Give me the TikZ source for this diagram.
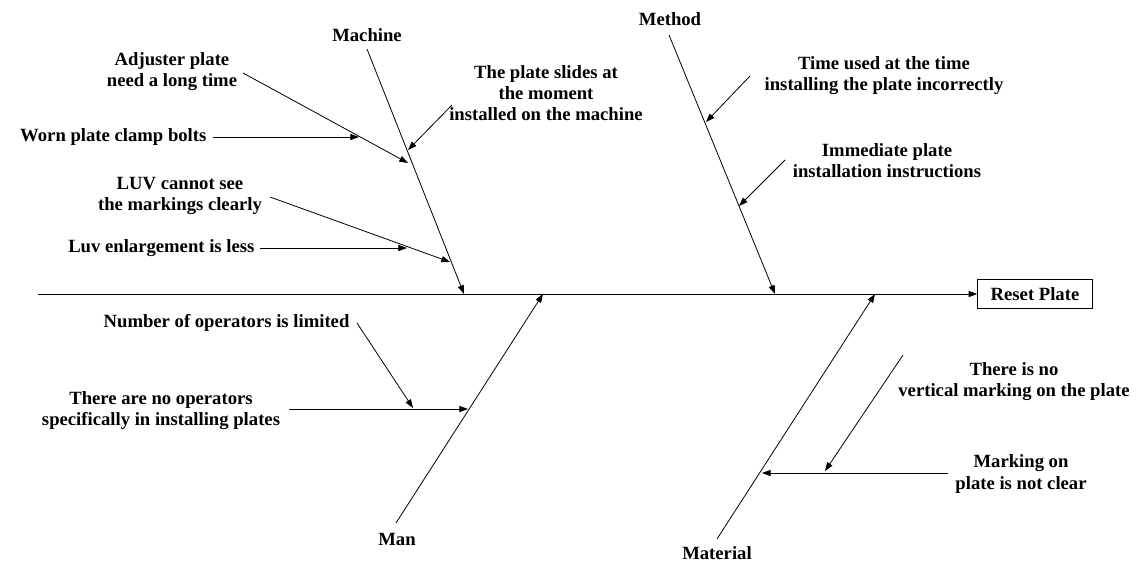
\documentclass[tikz,border=0pt]{standalone}
\usepackage{fontspec}
\setmainfont{Liberation Serif}
\usetikzlibrary{arrows.meta}

\tikzset{
  txt/.style={font=\fontsize{14}{15.8}\selectfont\bfseries,align=center,inner sep=1pt},
  arr/.style={line width=0.6pt,-{Triangle[length=6.5pt,width=4.6pt]}}
}

\begin{document}
\begin{tikzpicture}[x=0.75pt,y=-0.75pt]
    \useasboundingbox (0,0) rectangle (1137,563);

    % head and spine
    \node[txt,draw,line width=0.6pt,minimum width=86pt,minimum height=22pt] (reset) at (1035,294) {Reset Plate};
    \coordinate (tail) at (38,294);
    \draw[arr] (tail) -- (reset);

    % main bones
    \node[txt] (mach) at (367,35) {Machine};
    \node[txt] (meth) at (670,19) {Method};
    \node[txt] (man) at (397,539) {Man};
    \node[txt] (mat) at (717,553) {Material};
    \coordinate (mach1) at (367,49);  \coordinate (mach2) at (464,294);
    \coordinate (meth1) at (669,35);  \coordinate (meth2) at (775,294);
    \coordinate (man1) at (396,523);  \coordinate (man2) at (543,294);
    \coordinate (mat1) at (717,539);  \coordinate (mat2) at (875,294);
    \draw[arr] (mach1) -- (mach2);
    \draw[arr] (meth1) -- (meth2);
    \draw[arr] (man1) -- (man2);
    \draw[arr] (mat1) -- (mat2);

    % machine
    \node[txt] (adjust) at (172,72) {Adjuster plate\\need a long time};
    \node[txt,anchor=east] (worn) at (208,137) {Worn plate clamp bolts};
    \node[txt] (slide) at (546,93) {The plate slides at\\the moment\\installed on the machine};
    \node[txt] (luv) at (180,196) {LUV cannot see\\the markings clearly};
    \node[txt,anchor=east] (enlarge) at (256,248) {Luv enlargement is less};
    \coordinate (adjust1) at (243,73);  \coordinate (adjust2) at (408,163);
    \coordinate (worn1) at (213,137);   \coordinate (worn2) at (359,137);
    \coordinate (slide1) at (452,105);  \coordinate (slide2) at (408,150);
    \coordinate (luv1) at (270,197);    \coordinate (luv2) at (450,262);
    \coordinate (enlarge1) at (260,248); \coordinate (enlarge2) at (407,248);
    \draw[arr] (adjust1) -- (adjust2);
    \draw[arr] (worn1) -- (worn2);
    \draw[arr] (slide1) -- (slide2);
    \draw[arr] (luv1) -- (luv2);
    \draw[arr] (enlarge1) -- (enlarge2);

    % method
    \node[txt] (timeused) at (884,76) {Time used at the time\\installing the plate incorrectly};
    \node[txt] (instruct) at (887,161) {Immediate plate\\installation instructions};
    \coordinate (timeused1) at (750,76);  \coordinate (timeused2) at (706,122);
    \coordinate (instruct1) at (785,160); \coordinate (instruct2) at (739,206);
    \draw[arr] (timeused1) -- (timeused2);
    \draw[arr] (instruct1) -- (instruct2);

    % man
    \node[txt,anchor=east] (number) at (351,323) {Number of operators is limited};
    \node[txt] (noop) at (161,411) {There are no operators\\specifically in installing plates};
    \coordinate (number1) at (357,323); \coordinate (number2) at (413,408);
    \coordinate (noop1) at (289,409);   \coordinate (noop2) at (468,409);
    \draw[arr] (number1) -- (number2);
    \draw[arr] (noop1) -- (noop2);

    % material
    \node[txt] (vert) at (1014,382) {There is no\\vertical marking on the plate};
    \node[txt] (marking) at (1021,474) {Marking on\\plate is not clear};
    \coordinate (vert1) at (903,355);    \coordinate (vert2) at (825,471);
    \coordinate (marking1) at (948,473); \coordinate (marking2) at (762,473);
    \draw[arr] (vert1) -- (vert2);
    \draw[arr] (marking1) -- (marking2);
\end{tikzpicture}
\end{document}
